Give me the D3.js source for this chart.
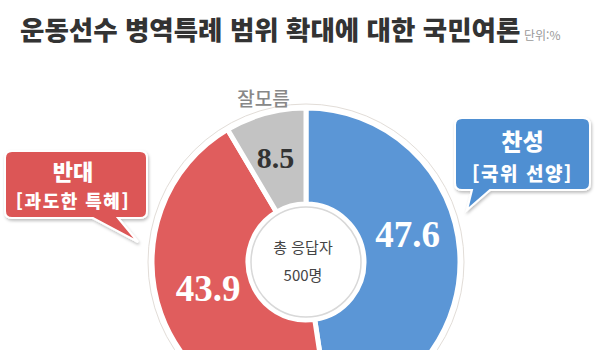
<!DOCTYPE html>
<html lang="ko">
<head>
  <meta charset="UTF-8">
  <title>운동선수 병역특례 범위 확대에 대한 국민여론</title>
  <script src="https://d3js.org/d3.v7.min.js"></script>
  <style>
    body { margin: 0; background: #fff; }
    svg text { font-family: "Noto Sans CJK KR", "Noto Sans", sans-serif; }
  </style>
</head>
<body>
  <div id="chart"></div>
  <script>
    // 응답 항목 (찬성 -> 반대 -> 잘모름, 12시 방향부터 시계방향)
    const labels = ['찬성', '반대', '잘모름'];
    const values = [47.6, 43.9, 8.5];
    const colors = ['#5b96d6', '#e05d5d', '#c3c3c3'];
    const valueColors = ['#fff', '#fff', '#333'];

    const title = '운동선수 병역특례 범위 확대에 대한 국민여론';
    const unit = '단위:%';
    const centerLines = ['총 응답자', '500명'];

    const W = 600, H = 350;
    const cx = 306, cy = 262;
    const rOuter = 154, rInner = 58;

    const svg = d3.select('#chart').append('svg')
      .attr('width', W).attr('height', H);

    const defs = svg.append('defs');
    const shadow = defs.append('filter').attr('id', 'shadow')
      .attr('x', '-20%').attr('y', '-20%').attr('width', '140%').attr('height', '150%');
    shadow.append('feDropShadow')
      .attr('dx', 1).attr('dy', 2).attr('stdDeviation', 1.5)
      .attr('flood-color', '#000').attr('flood-opacity', 0.25);

    // title
    svg.append('text')
      .attr('x', 20).attr('y', 40)
      .attr('font-size', 26.5).attr('font-weight', 900)
      .attr('fill', '#333')
      .text(title);
    svg.append('text')
      .attr('x', 524).attr('y', 40)
      .attr('font-size', 12).attr('fill', '#999')
      .text(unit);

    const data = labels.map((l, i) => ({ label: l, value: values[i], color: colors[i], vc: valueColors[i] }));

    const pie = d3.pie().value(d => d.value).sort(null);
    const arcs = pie(data);
    const arc = d3.arc().innerRadius(rInner).outerRadius(rOuter);

    const g = svg.append('g').attr('transform', `translate(${cx},${cy})`);

    // faint outer ring
    g.append('circle')
      .attr('r', rOuter + 4)
      .attr('fill', 'none')
      .attr('stroke', '#e2ddd8')
      .attr('stroke-width', 1);

    g.selectAll('path.slice')
      .data(arcs)
      .join('path')
      .attr('class', 'slice')
      .attr('d', arc)
      .attr('fill', d => d.data.color)
      .attr('stroke', '#fff')
      .attr('stroke-width', 5)
      .attr('stroke-linejoin', 'round');

    // center disc
    g.append('circle')
      .attr('r', rInner - 3)
      .attr('fill', '#fff')
      .attr('stroke', '#d8d8d8')
      .attr('stroke-width', 1.5);

    g.selectAll('text.center')
      .data(centerLines)
      .join('text')
      .attr('class', 'center')
      .attr('x', -3)
      .attr('y', (d, i) => -16 + i * 28)
      .attr('text-anchor', 'middle')
      .attr('dominant-baseline', 'central')
      .attr('font-size', 15)
      .attr('fill', '#444')
      .text(d => d);

    // value labels: centroid plus a small nudge so they sit like the original
    const labelArc = d3.arc().innerRadius(104).outerRadius(104);
    const valueSize = [37, 37, 30];
    const nudge = [[-2, -20], [0, -8], [-3, -4]];
    g.selectAll('text.value')
      .data(arcs)
      .join('text')
      .attr('class', 'value')
      .attr('transform', (d, i) => {
        const [x, y] = labelArc.centroid(d);
        return `translate(${x + nudge[i][0]},${y + nudge[i][1]})`;
      })
      .attr('text-anchor', 'middle')
      .attr('dominant-baseline', 'central')
      .style('font-family', '"Liberation Serif", "DejaVu Serif", serif')
      .attr('font-weight', 700)
      .attr('font-size', (d, i) => valueSize[i])
      .attr('fill', d => d.data.vc)
      .text(d => d.data.value.toFixed(1));

    // 잘모름 label above its slice
    const grey = arcs[2];
    const ga = (grey.startAngle + grey.endAngle) / 2;
    g.append('text')
      .attr('x', Math.sin(ga) * (rOuter + 15) + 2)
      .attr('y', -Math.cos(ga) * (rOuter + 15) - 2)
      .attr('text-anchor', 'middle')
      .attr('dominant-baseline', 'central')
      .attr('font-size', 19)
      .attr('font-weight', 500)
      .attr('fill', '#888')
      .text(grey.data.label);

    // speech-bubble callouts
    function bubble(x, y, w, h, r, tail) {
      // tail: [baseLeftX, baseRightX, tipX, tipY] on the bottom edge
      const [b1, b2, tx, ty] = tail;
      return `M${x + r},${y}` +
        `H${x + w - r}Q${x + w},${y} ${x + w},${y + r}` +
        `V${y + h - r}Q${x + w},${y + h} ${x + w - r},${y + h}` +
        `H${b2}L${tx},${ty}L${b1},${y + h}` +
        `H${x + r}Q${x},${y + h} ${x},${y + h - r}` +
        `V${y + r}Q${x},${y} ${x + r},${y}Z`;
    }

    const callouts = [
      { box: [5, 151, 142, 67], tail: [93, 118, 138, 242], color: '#dc5656',
        lines: ['반대', '[과도한 특혜]'], ly: [19, 49], sizes: [22, 18], dx: -3 },
      { box: [455, 118, 135, 72], tail: [472, 490, 467, 210], color: '#4f8fd2',
        lines: ['찬성', '[국위 선양]'], ly: [22, 54], sizes: [23, 19], dx: 0 }
    ];

    callouts.forEach(c => {
      const [x, y, w, h] = c.box;
      svg.append('path')
        .attr('d', bubble(x, y, w, h, 7, c.tail))
        .attr('fill', c.color)
        .attr('stroke', '#fff')
        .attr('stroke-width', 2)
        .attr('filter', 'url(#shadow)');
      svg.append('text')
        .attr('x', x + w / 2 + c.dx).attr('y', y + c.ly[0])
        .attr('text-anchor', 'middle')
        .attr('dominant-baseline', 'central')
        .attr('font-size', c.sizes[0]).attr('font-weight', 900)
        .attr('fill', '#fff')
        .text(c.lines[0]);
      svg.append('text')
        .attr('x', x + w / 2 + c.dx).attr('y', y + c.ly[1])
        .attr('text-anchor', 'middle')
        .attr('dominant-baseline', 'central')
        .attr('font-size', c.sizes[1]).attr('font-weight', 900)
        .attr('letter-spacing', 1.5)
        .attr('fill', '#fff')
        .text(c.lines[1]);
    });
  </script>
</body>
</html>
